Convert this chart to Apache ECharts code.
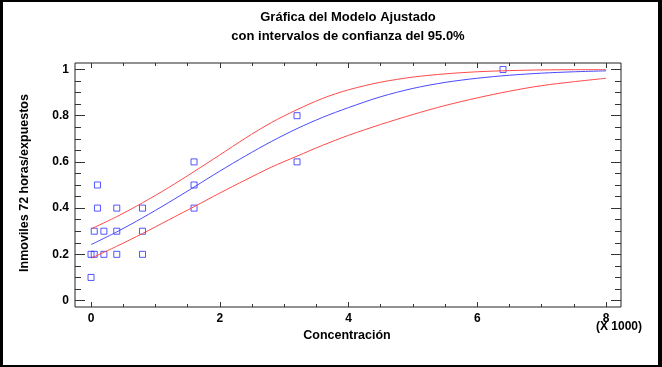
<!DOCTYPE html>
<html>
<head>
<meta charset="utf-8">
<script src="https://cdn.jsdelivr.net/npm/echarts@6/dist/echarts.min.js"></script>
<style>
    html, body {margin: 0; padding: 0; background: #fff;}
    #chart {width: 662px; height: 367px;}
</style>
</head>
<body>
<div id="chart"></div>
<script>
//观测点 (Concentración en miles, proporción)
var obsX = [0, 0, 0.05, 0.05, 0.1, 0.1, 0.2, 0.2, 0.4, 0.4, 0.4, 0.8, 0.8, 0.8, 1.6, 1.6, 1.6, 3.2, 3.2, 6.4]
var obsY = [0.1, 0.2, 0.2, 0.3, 0.4, 0.5, 0.2, 0.3, 0.2, 0.3, 0.4, 0.2, 0.3, 0.4, 0.4, 0.5, 0.6, 0.6, 0.8, 1.0]

//曲线 x 取样
var curveX = [0, 0.4, 0.8, 1.2, 1.6, 2.0, 2.4, 2.8, 3.2, 3.6, 4.0, 4.5, 5.0, 5.5, 6.0, 6.5, 7.0, 7.5, 8.0]
var fitY = [0.242, 0.297, 0.358, 0.423, 0.491, 0.56, 0.626, 0.688, 0.744, 0.793, 0.835, 0.882, 0.918, 0.944, 0.962, 0.975, 0.984, 0.99, 0.994]
var upperY = [0.31, 0.363, 0.423, 0.488, 0.558, 0.63, 0.703, 0.77, 0.826, 0.875, 0.912, 0.945, 0.967, 0.981, 0.99, 0.995, 0.998, 0.999, 0.999]
var lowerY = [0.183, 0.235, 0.29, 0.348, 0.406, 0.465, 0.522, 0.577, 0.625, 0.672, 0.715, 0.762, 0.805, 0.844, 0.877, 0.906, 0.93, 0.947, 0.962]

//刻度
var xMajor = [0, 2, 4, 6, 8]
var xMinor = [0.5, 1, 1.5, 2.5, 3, 3.5, 4.5, 5, 5.5, 6.5, 7, 7.5]
var yMajor = [0, 0.2, 0.4, 0.6, 0.8, 1]
var yMinor = [0.05, 0.1, 0.15, 0.25, 0.3, 0.35, 0.45, 0.5, 0.55, 0.65, 0.7, 0.75, 0.85, 0.9, 0.95]

var font = "'Liberation Sans', Arial, sans-serif"
var tickColor = '#333'

var zip = (xs, ys) => xs.map((x, i) => [x, ys[i]])

var makeX = (pos, ticks, len, labels) => ({
    type: 'value',
    position: pos,
    min: -0.249,
    max: 8.233,
    axisLine: {show: false, onZero: false},
    splitLine: {show: false},
    axisTick: {show: true, inside: true, length: len, customValues: ticks, lineStyle: {color: tickColor}},
    axisLabel: labels ? {
        show: true, customValues: xMajor, margin: 6,
        color: '#000', fontWeight: 'bold', fontSize: 12, fontFamily: font
    } : {show: false}
})

var makeY = (pos, ticks, len, labels) => ({
    type: 'value',
    position: pos,
    min: -0.028,
    max: 1.028,
    axisLine: {show: false, onZero: false},
    splitLine: {show: false},
    axisTick: {show: true, inside: true, length: len, customValues: ticks, lineStyle: {color: tickColor}},
    axisLabel: labels ? {
        show: true, customValues: yMajor, margin: 6,
        formatter: (v) => String(Math.round(v * 10) / 10),
        color: '#000', fontWeight: 'bold', fontSize: 12, fontFamily: font
    } : {show: false}
})

var chart = echarts.init(document.getElementById('chart'))

chart.setOption({
    animation: false,
    backgroundColor: '#fff',
    grid: {
        left: 75, top: 63, width: 546, height: 244,
        show: true, borderColor: '#222', borderWidth: 1, backgroundColor: 'transparent'
    },
    xAxis: [
        makeX('bottom', xMajor, 5, true),
        makeX('bottom', xMinor, 3, false),
        makeX('top', xMajor, 5, false),
        makeX('top', xMinor, 3, false)
    ],
    yAxis: [
        makeY('left', yMajor, 10, true),
        makeY('left', yMinor, 6, false),
        makeY('right', yMajor, 10, false),
        makeY('right', yMinor, 6, false)
    ],
    series: [
        {
            type: 'line', data: zip(curveX, lowerY), showSymbol: false, smooth: 0.3,
            lineStyle: {color: '#ff4a4a', width: 1}
        },
        {
            type: 'line', data: zip(curveX, upperY), showSymbol: false, smooth: 0.3,
            lineStyle: {color: '#ff4a4a', width: 1}
        },
        {
            type: 'line', data: zip(curveX, fitY), showSymbol: false, smooth: 0.3,
            lineStyle: {color: '#4a4aff', width: 1}
        },
        {
            type: 'scatter', data: zip(obsX, obsY), symbol: 'rect', symbolSize: 6,
            itemStyle: {color: 'transparent', borderColor: '#2a2aff', borderWidth: 1}
        }
    ],
    graphic: [
        {type: 'rect', shape: {x: 0, y: 0, width: 3, height: 367}, style: {fill: '#000'}},
        {type: 'rect', shape: {x: 658, y: 0, width: 4, height: 367}, style: {fill: '#000'}},
        {type: 'rect', shape: {x: 0, y: 0, width: 662, height: 2}, style: {fill: '#000'}},
        {type: 'rect', shape: {x: 0, y: 365, width: 662, height: 2}, style: {fill: '#000'}},
        {
            type: 'text', x: 348, y: 17,
            style: {text: 'Gráfica del Modelo Ajustado', align: 'center', verticalAlign: 'middle',
                font: 'bold 13px ' + font, fill: '#000'}
        },
        {
            type: 'text', x: 348, y: 36,
            style: {text: 'con intervalos de confianza del 95.0%', align: 'center', verticalAlign: 'middle',
                font: 'bold 13px ' + font, fill: '#000'}
        },
        {
            type: 'text', x: 347, y: 336,
            style: {text: 'Concentración', align: 'center', verticalAlign: 'middle',
                font: 'bold 12.5px ' + font, fill: '#000'}
        },
        {
            type: 'text', x: 619, y: 327,
            style: {text: '(X 1000)', align: 'center', verticalAlign: 'middle',
                font: 'bold 12px ' + font, fill: '#000'}
        },
        {
            type: 'text', x: 25, y: 183, rotation: Math.PI / 2,
            style: {text: 'Inmoviles 72 horas/expuestos', align: 'center', verticalAlign: 'middle',
                font: 'bold 12.5px ' + font, fill: '#000'}
        }
    ]
})
</script>
</body>
</html>
